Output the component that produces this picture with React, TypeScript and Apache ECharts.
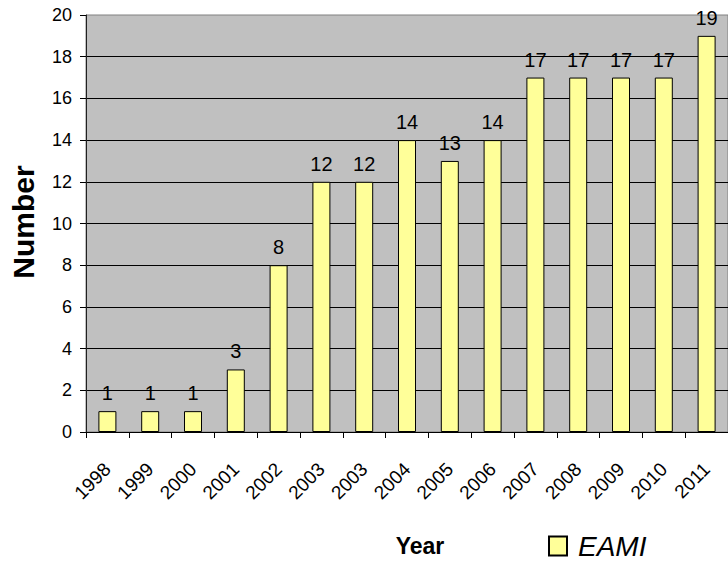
import React, { useEffect, useRef } from "react";
import * as echarts from "echarts";

const categories = ["1998", "1999", "2000", "2001", "2002", "2003", "2003", "2004", "2005", "2006", "2007", "2008", "2009", "2010", "2011"];
const eamiValues = [1, 1, 1, 3, 8, 12, 12, 14, 13, 14, 17, 17, 17, 17, 19];
const seriesName = "EAMI";
const FONT = "'Liberation Sans', Arial, sans-serif";

export default function App() {
  const ref = useRef<HTMLDivElement>(null);
  useEffect(() => {
    if (!ref.current) return;
    const chart = echarts.init(ref.current, null, { renderer: "svg" });
    chart.setOption({
      animation: false,
      backgroundColor: "#ffffff",
      textStyle: { fontFamily: FONT },
      grid: {
        left: 86,
        top: 15,
        right: -5,
        bottom: 129,
        show: true,
        backgroundColor: "#C0C0C0",
        borderColor: "#808080",
        borderWidth: 1,
      },
      legend: {
        show: true,
        data: [seriesName],
        left: 548,
        top: 532,
        itemWidth: 18,
        itemHeight: 19,
        icon: "rect",
        textStyle: { fontSize: 28, lineHeight: 28, fontStyle: "italic", color: "#000", fontFamily: FONT, padding: [0, 0, 0, 6] },
        padding: 0,
      },
      xAxis: {
        type: "category",
        data: categories,
        axisLine: { lineStyle: { color: "#000", width: 1 } },
        axisTick: { show: true, length: 6, lineStyle: { color: "#000" } },
        axisLabel: { rotate: 45, fontSize: 19, color: "#000", margin: 34, interval: 0, fontFamily: FONT },
        splitLine: { show: false },
      },
      yAxis: {
        type: "value",
        min: 0,
        max: 20,
        interval: 2,
        axisLine: { show: true, lineStyle: { color: "#202020", width: 1 } },
        axisTick: { show: true, length: 6, lineStyle: { color: "#000" } },
        axisLabel: { fontSize: 18, color: "#000", margin: 14, fontFamily: FONT },
        splitLine: { show: true, showMinLine: false, showMaxLine: false, lineStyle: { color: "#000", width: 1 } },
      },
      graphic: [
        {
          type: "text",
          x: 23,
          y: 222,
          rotation: Math.PI / 2,
          style: {
            text: "Number",
            font: `bold 30px ${FONT}`,
            fill: "#000",
            align: "center",
            verticalAlign: "middle",
          },
        },
        {
          type: "text",
          x: 420,
          y: 546,
          style: {
            text: "Year",
            font: `bold 23px ${FONT}`,
            fill: "#000",
            align: "center",
            verticalAlign: "middle",
          },
        },
      ],
      series: [
        {
          name: seriesName,
          type: "bar",
          data: eamiValues,
          barWidth: 18,
          itemStyle: { color: "#FFFF99", borderColor: "#000", borderWidth: 1 },
          label: { show: true, position: "top", distance: 8, fontSize: 20, color: "#000", fontFamily: FONT },
        },
      ],
    });
    return () => chart.dispose();
  }, []);
  return <div ref={ref} style={{ position: "absolute", left: 0, top: 0, width: 728, height: 561 }} />;
}
